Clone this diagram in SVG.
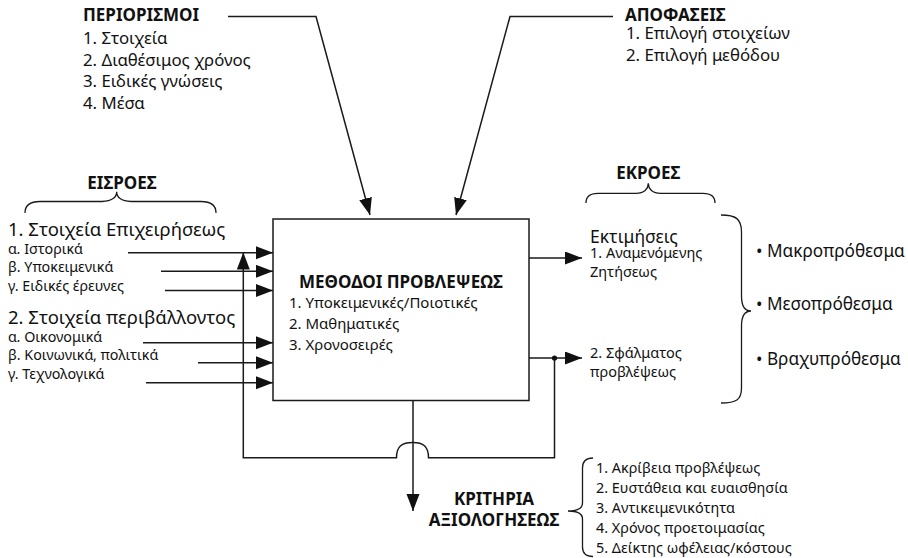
<svg xmlns="http://www.w3.org/2000/svg" width="908" height="558" viewBox="0 0 908 558">
<style>
text{font-family:"Noto Sans","Open Sans","DejaVu Sans",sans-serif;fill:#111}
.h{font-weight:bold;font-size:17px}
.t{font-size:16.8px}
.L{font-size:18.5px}
.s{font-size:14.3px}
.m{font-size:15px}
.c{font-size:14.4px}
.e{font-size:17.5px}
.o{font-size:14.5px}
.bl{font-size:17.2px}
.ln{fill:none;stroke:#1a1a1a;stroke-width:1.5}
.br{fill:none;stroke:#1a1a1a;stroke-width:1.3}
</style>
<defs>
<marker id="ah" markerUnits="userSpaceOnUse" markerWidth="18" markerHeight="14" refX="17" refY="6.5" orient="auto">
<path d="M0,0 L17,6.5 L0,13 z" fill="#111"/>
</marker>
</defs>
<rect width="908" height="558" fill="#fff"/>

<g id="connectors">
<polyline class="ln" points="228,16.5 316,16.5 370,215" marker-end="url(#ah)"/>
<polyline class="ln" points="613,16.5 510,16.5 456,215" marker-end="url(#ah)"/>
<line class="ln" x1="128" y1="252.7" x2="273" y2="252.7" marker-end="url(#ah)"/>
<line class="ln" x1="161" y1="271.3" x2="273" y2="271.3" marker-end="url(#ah)"/>
<line class="ln" x1="165" y1="290.5" x2="273" y2="290.5" marker-end="url(#ah)"/>
<line class="ln" x1="143" y1="342.7" x2="273" y2="342.7" marker-end="url(#ah)"/>
<line class="ln" x1="198" y1="362.7" x2="273" y2="362.7" marker-end="url(#ah)"/>
<line class="ln" x1="146" y1="382.7" x2="273" y2="382.7" marker-end="url(#ah)"/>
<line class="ln" x1="529" y1="258" x2="582" y2="258" marker-end="url(#ah)"/>
<line class="ln" x1="529" y1="358" x2="582" y2="358" marker-end="url(#ah)"/>
<path class="ln" d="M554.5,358 L554.5,457.7 L428.5,457.7 C428.5,446 423,442.5 412.7,442.5 C402,442.5 396.5,446 396.5,457.7 L243.3,457.7 L243.3,252.5" marker-end="url(#ah)"/>
<circle cx="554.5" cy="358" r="2.6" fill="#111"/>
<line class="ln" x1="413" y1="387" x2="413" y2="511" marker-end="url(#ah)"/>
</g>

<g id="periorismoi">
<text class="h" x="83" y="21">ΠΕΡΙΟΡΙΣΜΟΙ</text>
<text class="t" x="83" y="44">1. Στοιχεία</text>
<text class="t" x="83" y="65.7">2. Διαθέσιμος χρόνος</text>
<text class="t" x="83" y="87.4">3. Ειδικές γνώσεις</text>
<text class="t" x="83" y="109">4. Μέσα</text>
</g>

<g id="apofaseis">
<text class="h" x="625" y="20.5">ΑΠΟΦΑΣΕΙΣ</text>
<text class="t" x="626" y="39">1. Επιλογή στοιχείων</text>
<text class="t" x="626" y="61">2. Επιλογή μεθόδου</text>
</g>

<g id="eisroes">
<text class="h" x="122" y="189.3" text-anchor="middle">ΕΙΣΡΟΕΣ</text>
<path class="br" d="M25,213 C25,205 30,201.5 40,201.5 L102,201.5 C112,201.5 116.7,197 116.7,191.7 C116.7,197 121,201.5 131,201.5 L201,201.5 C211,201.5 216,205 216,213"/>
<text class="L" x="8" y="236">1. Στοιχεία Επιχειρήσεως</text>
<text class="s" x="8" y="254">α. Ιστορικά</text>
<text class="s" x="8" y="272">β. Υποκειμενικά</text>
<text class="s" x="8" y="290.5">γ. Ειδικές έρευνες</text>
<text class="L" x="8" y="323.5">2. Στοιχεία περιβάλλοντος</text>
<text class="s" x="8" y="341.5">α. Οικονομικά</text>
<text class="s" x="8" y="359.5">β. Κοινωνικά, πολιτικά</text>
<text class="s" x="8" y="378.5">γ. Τεχνολογικά</text>
</g>

<g id="methodoi">
<rect x="273" y="219" width="256" height="181.5" fill="#fff" stroke="#1a1a1a" stroke-width="1.5"/>
<text class="h" x="401" y="288.3" text-anchor="middle">ΜΕΘΟΔΟΙ ΠΡΟΒΛΕΨΕΩΣ</text>
<text class="m" x="289" y="308.3">1. Υποκειμενικές/Ποιοτικές</text>
<text class="m" x="289" y="329">2. Μαθηματικές</text>
<text class="m" x="289" y="349.5">3. Χρονοσειρές</text>
</g>

<g id="ekroes">
<text class="h" x="648.3" y="179.3" text-anchor="middle">ΕΚΡΟΕΣ</text>
<path class="br" d="M586,203 C586,196 590,193.3 598,193.3 L636,193.3 C644,193.3 648.3,189 648.3,183.3 C648.3,189 652.6,193.3 660.6,193.3 L703,193.3 C711,193.3 715,196 715,203"/>
<text class="e" x="590" y="243.3">Εκτιμήσεις</text>
<text class="o" x="590" y="258">1. Αναμενόμενης</text>
<text class="o" x="590" y="277">Ζητήσεως</text>
<text class="o" x="590" y="358">2. Σφάλματος</text>
<text class="o" x="590" y="377">προβλέψεως</text>
</g>

<g id="orizontes">
<path class="br" d="M721,215 C736,215 741.5,219 741.5,232 L741.5,296 C741.5,306 745,311 751,311 C745,311 741.5,316 741.5,326 L741.5,388 C741.5,400 736,403 721,403"/>
<text class="bl" x="756" y="256.5">• Μακροπρόθεσμα</text>
<text class="bl" x="756" y="309.5">• Μεσοπρόθεσμα</text>
<text class="bl" x="756" y="364.5">• Βραχυπρόθεσμα</text>
</g>

<g id="kritiria">
<text class="h" x="494" y="505" text-anchor="middle">ΚΡΙΤΗΡΙΑ</text>
<text class="h" x="494" y="526" text-anchor="middle">ΑΞΙΟΛΟΓΗΣΕΩΣ</text>
<path class="br" d="M593,458 C586,458 582.5,461 582.5,468 L582.5,503 C582.5,508 578,511 568,511 C578,511 582.5,514 582.5,519 L582.5,547 C582.5,554 586,556.5 593,556.5"/>
<text class="c" x="596" y="472.5">1. Ακρίβεια προβλέψεως</text>
<text class="c" x="596" y="492.5">2. Ευστάθεια και ευαισθησία</text>
<text class="c" x="596" y="512.5">3. Αντικειμενικότητα</text>
<text class="c" x="596" y="532.5">4. Χρόνος προετοιμασίας</text>
<text class="c" x="596" y="552.5">5. Δείκτης ωφέλειας/κόστους</text>
</g>
</svg>
